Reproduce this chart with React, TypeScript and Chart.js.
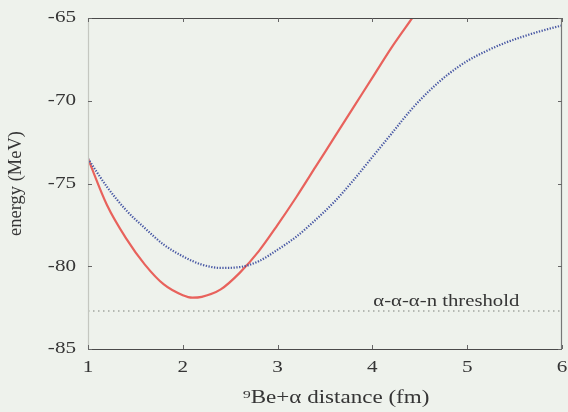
import React, { useEffect, useRef } from "react";
import { Chart, registerables } from "chart.js";

Chart.register(...registerables);

const redX = [1.0, 1.2, 1.4, 1.6, 1.8, 2.0, 2.1, 2.2, 2.4, 2.6, 2.8, 3.0, 3.2, 3.4, 3.6, 3.8, 4.0, 4.2, 4.42];
const redY = [-73.5, -76.3, -78.3, -79.9, -81.1, -81.75, -81.9, -81.85, -81.4, -80.4, -79.1, -77.5, -75.8, -74.0, -72.2, -70.4, -68.6, -66.8, -65.0];

const blueX = [1.0, 1.2, 1.4, 1.6, 1.8, 2.0, 2.2, 2.4, 2.6, 2.8, 3.0, 3.2, 3.4, 3.6, 3.8, 4.0, 4.2, 4.4, 4.6, 4.8, 5.0, 5.2, 5.4, 5.6, 5.8, 6.0];
const blueY = [-73.5, -75.2, -76.6, -77.7, -78.7, -79.4, -79.9, -80.1, -80.05, -79.7, -79.0, -78.2, -77.2, -76.1, -74.8, -73.4, -72.0, -70.6, -69.4, -68.4, -67.6, -67.0, -66.5, -66.1, -65.75, -65.45];

const thresholdX = [1, 6];
const thresholdValue = -82.7;
const thresholdLabel = "α-α-α-n threshold";

const xTicks = [1, 2, 3, 4, 5, 6];
const yTicks = [-85, -80, -75, -70, -65];
const xTitle = "⁹Be+α distance (fm)";
const yTitle = "energy (MeV)";

const FONT = "'Liberation Serif', 'DejaVu Serif', serif";
const TEXT = "#353535";
const SX = 1.28;

function drawText(ctx: CanvasRenderingContext2D, text: string, x: number, y: number, size: number, align: CanvasTextAlign, baseline: CanvasTextBaseline, sx: number, rot = 0) {
  ctx.save();
  ctx.translate(x, y);
  if (rot) ctx.rotate(rot);
  ctx.scale(sx, 1);
  ctx.font = size + "px " + FONT;
  ctx.fillStyle = TEXT;
  ctx.textAlign = align;
  ctx.textBaseline = baseline;
  ctx.fillText(text, 0, 0);
  ctx.restore();
}

export default function App() {
  const ref = useRef<HTMLCanvasElement | null>(null);
  useEffect(() => {
    if (!ref.current) return;
    const framePlugin = {
      id: "frame",
      afterDatasetsDraw(chart: any) {
        const { ctx, chartArea: a, scales } = chart;
        const xs = scales.x, ys = scales.y;
        ctx.save();
        ctx.lineWidth = 1.2;
        ctx.strokeStyle = "#c4c7c0";
        ctx.beginPath();
        ctx.moveTo(a.left + 0.5, a.top);
        ctx.lineTo(a.left + 0.5, a.bottom);
        ctx.stroke();
        ctx.strokeStyle = "#4a4a4a";
        ctx.beginPath();
        ctx.moveTo(a.left, a.top + 0.5);
        ctx.lineTo(a.right, a.top + 0.5);
        ctx.moveTo(a.left, a.bottom + 0.5);
        ctx.lineTo(a.right, a.bottom + 0.5);
        ctx.stroke();
        ctx.strokeStyle = "#777";
        ctx.beginPath();
        ctx.moveTo(a.right - 0.5, a.top);
        ctx.lineTo(a.right - 0.5, a.bottom);
        ctx.stroke();
        ctx.lineWidth = 1;
        ctx.strokeStyle = "#666";
        ctx.beginPath();
        xTicks.forEach((v) => {
          const px = Math.round(xs.getPixelForValue(v)) + 0.5;
          ctx.moveTo(px, a.bottom);
          ctx.lineTo(px, a.bottom - 4);
          ctx.moveTo(px, a.top);
          ctx.lineTo(px, a.top + 4);
        });
        yTicks.forEach((v) => {
          const py = Math.round(ys.getPixelForValue(v)) + 0.5;
          ctx.moveTo(a.left, py);
          ctx.lineTo(a.left + 4, py);
          ctx.moveTo(a.right, py);
          ctx.lineTo(a.right - 4, py);
        });
        ctx.stroke();
        ctx.restore();

        // tick labels
        yTicks.forEach((v) => {
          drawText(ctx, String(v), a.left - 12, ys.getPixelForValue(v), 16.5, "right", "middle", SX);
        });
        xTicks.forEach((v) => {
          drawText(ctx, String(v), xs.getPixelForValue(v), a.bottom + 19, 16.5, "center", "middle", SX);
        });
        // titles
        drawText(ctx, xTitle, 336, 398, 18, "center", "middle", SX);
        drawText(ctx, yTitle, 16, (a.top + a.bottom) / 2, 18.5, "center", "middle", 1, -Math.PI / 2);
        // threshold label
        drawText(ctx, thresholdLabel, xs.getPixelForValue(4.78), ys.getPixelForValue(thresholdValue) - 5, 17, "center", "alphabetic", 1.22);
      },
    };
    const bgPlugin = {
      id: "bg",
      beforeDraw(chart: any) {
        const { ctx, width, height } = chart;
        ctx.save();
        ctx.fillStyle = "#eef2ec";
        ctx.fillRect(0, 0, width, height);
        ctx.restore();
      },
    };
    const chart = new Chart(ref.current, {
      type: "line",
      data: {
        datasets: [
          {
            data: thresholdX.map((x) => ({ x, y: thresholdValue })),
            borderColor: "#a3a7a0",
            borderWidth: 1.5,
            borderDash: [1.5, 3.5],
            pointRadius: 0,
            tension: 0,
          },
          {
            data: blueX.map((x, i) => ({ x, y: blueY[i] })),
            borderColor: "#4858a4",
            borderWidth: 2.2,
            borderDash: [1.3, 1.5],
            pointRadius: 0,
            cubicInterpolationMode: "monotone",
          },
          {
            data: redX.map((x, i) => ({ x, y: redY[i] })),
            borderColor: "#e8625c",
            borderWidth: 2.2,
            pointRadius: 0,
            cubicInterpolationMode: "monotone",
          },
        ],
      },
      options: {
        animation: false,
        responsive: false,
        events: [],
        layout: { padding: { left: 0, right: 6, top: 18, bottom: 0 } },
        plugins: { legend: { display: false }, tooltip: { enabled: false } },
        scales: {
          x: {
            type: "linear",
            min: 1,
            max: 6,
            border: { display: false },
            grid: { display: false, drawTicks: false },
            ticks: { display: false },
            afterFit: (s: any) => {
              s.height = 63;
            },
          },
          y: {
            type: "linear",
            min: -85,
            max: -65,
            border: { display: false },
            grid: { display: false, drawTicks: false },
            ticks: { display: false },
            afterFit: (s: any) => {
              s.width = 88;
            },
          },
        },
      },
      plugins: [bgPlugin, framePlugin],
    } as any);
    return () => chart.destroy();
  }, []);
  return (
    <div style={{ position: "fixed", left: 0, top: 0, width: 568, height: 412, background: "#eef2ec" }}>
      <canvas ref={ref} width={568} height={412} style={{ display: "block", width: 568, height: 412 }} />
    </div>
  );
}
